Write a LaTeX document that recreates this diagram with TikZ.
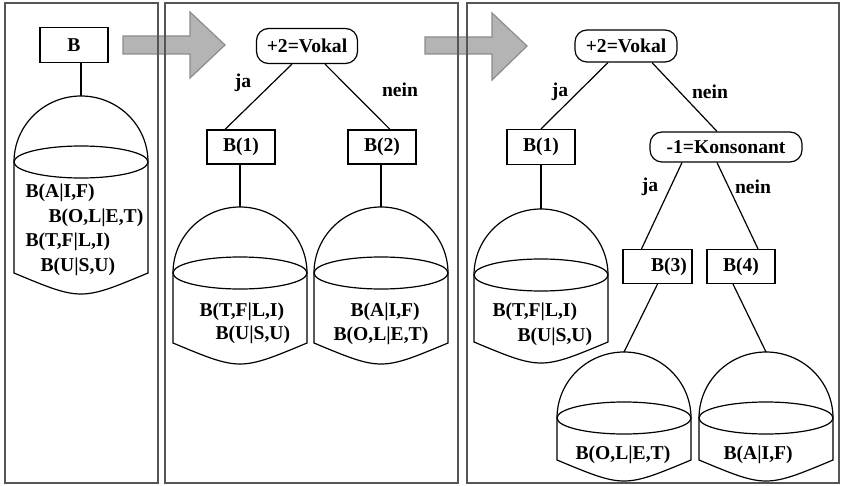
\documentclass[tikz,border=0pt]{standalone}
\usepackage{fontspec}
\setmainfont{Liberation Serif}
\usepackage{tikz}
\usetikzlibrary{calc}
\definecolor{arrowgray}{HTML}{B4B4B4}
\definecolor{edgegray}{HTML}{8C8C8C}
\definecolor{framegray}{HTML}{555555}

\tikzset{
  every node/.style={font=\fontsize{9.8}{12}\selectfont\bfseries},
  box/.style={draw, minimum width=34pt, minimum height=17pt, inner sep=1pt},
  testbox/.style={draw, rounded corners=6pt, minimum height=16pt, inner sep=1pt},
  entry/.style={anchor=west, inner sep=0pt},
  frame/.style={draw=framegray, line width=0.7pt},
  blockarrow/.style={fill=arrowgray, draw=edgegray, line width=0.6pt},
}

%% bucket: name of top coordinate, centre x, rim y, body height
\newcommand{\bucket}[4]{%
  \draw ({#2-67},#3) arc[start angle=180, end angle=360, x radius=67, y radius=66];
  \draw (#2,#3) ellipse[x radius=67, y radius=16];
  \draw ({#2-67},#3) -- ({#2-67},{#3+#4})
    .. controls (#2,{#3+#4+28}) .. ({#2+67},{#3+#4}) -- ({#2+67},#3);
  \coordinate (#1) at (#2,{#3-66});
}

\begin{document}
\begin{tikzpicture}[x=0.5pt, y=-0.5pt, line width=0.6pt]
  \useasboundingbox (0,0) rectangle (844,486);

  %% Block arrows between the panels
  \draw[blockarrow] (123,36) -- (190,36) -- (190,12) -- (225,45)
    -- (190,78) -- (190,54) -- (123,54) -- cycle;
  \draw[blockarrow] (425,37) -- (492,37) -- (492,13) -- (527,46)
    -- (492,80) -- (492,54) -- (425,54) -- cycle;

  %% Panels
  \draw[frame] (5,3) rectangle (158,483);
  \draw[frame] (165,3) rectangle (458,483);
  \draw[frame] (467,3) rectangle (839,483);

  %% Panel 1: whole set
  \node[box, minimum height=17.5pt] (b) at (74,45) {B};
  \bucket{t1}{81}{162}{111}
  \draw (b.south -| t1) -- (t1);
  \node[entry] (e11) at (25,193) {B(A|I,F)};
  \node[entry] (e12) at (48,218) {B(O,L|E,T)};
  \node[entry] (e13) at (25,242) {B(T,F|L,I)};
  \node[entry] (e14) at (40,267) {B(U|S,U)};

  %% Panel 2: first split
  \node[testbox, minimum width=50.5pt, minimum height=17.5pt] (r2) at (307,46) {+2=Vokal};
  \node[box] (b21) at (241,147) {B(1)};
  \node[box] (b22) at (382,147) {B(2)};
  \node (ja2) at (243,83) {ja};
  \node (nein2) at (400,90) {nein};
  \draw ([xshift=-7.5pt]r2.south) -- ([xshift=-8pt]b21.north);
  \draw ([xshift=9pt]r2.south) -- ([xshift=4pt]b22.north);
  \bucket{t21}{240}{273}{70}
  \bucket{t22}{381}{273}{70}
  \draw (b21.south -| t21) -- (t21);
  \draw (b22.south -| t22) -- (t22);
  \node[entry] (e21) at (199,312) {B(T,F|L,I)};
  \node[entry] (e22) at (215,335) {B(U|S,U)};
  \node[entry] (e23) at (350,312) {B(A|I,F)};
  \node[entry] (e24) at (333,336) {B(O,L|E,T)};

  %% Panel 3: second split
  \node[testbox, minimum width=51pt, minimum height=16pt] (r3) at (626,46) {+2=Vokal};
  \node[box, minimum height=17.5pt] (b31) at (541,147) {B(1)};
  \node[testbox, minimum width=76pt, minimum height=15pt] (k3) at (726,147) {-1=Konsonant};
  \node[box, minimum width=34.5pt, text width=29.5pt, inner xsep=2.5pt, align=right]
    (b33) at (657.5,266.5) {B(3)};
  \node[box] (b34) at (741,266.5) {B(4)};
  \node (ja31) at (560,92) {ja};
  \node (nein31) at (710,92) {nein};
  \node (ja32) at (650,187) {ja};
  \node (nein32) at (753,187) {nein};
  \draw ([xshift=-9pt]r3.south) -- (b31.north);
  \draw ([xshift=13pt]r3.south) -- ([xshift=-4.5pt]k3.north);
  \draw ([xshift=-22pt]k3.south) -- ([xshift=-8pt]b33.north);
  \draw ([xshift=-4.5pt]k3.south) -- ([xshift=8.5pt]b34.north);
  \bucket{t31}{541}{275}{67}
  \bucket{t33}{624}{418}{42}
  \bucket{t34}{766}{418}{42}
  \draw (b31.south -| t31) -- (t31);
  \draw (b33.south) -- (t33);
  \draw ([xshift=-4pt]b34.south) -- (t34);
  \node[entry] (e31) at (492,312) {B(T,F|L,I)};
  \node[entry] (e32) at (517,337) {B(U|S,U)};
  \node[entry] (e33) at (575,455) {B(O,L|E,T)};
  \node[entry] (e34) at (723,455) {B(A|I,F)};
\end{tikzpicture}
\end{document}
